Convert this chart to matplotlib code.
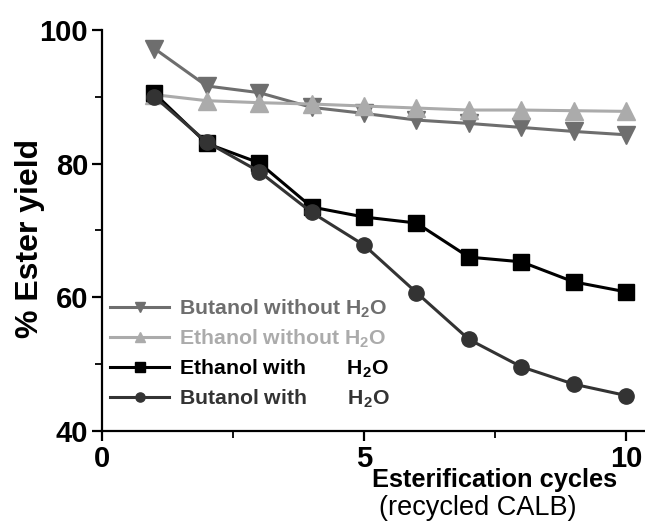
import matplotlib.pyplot as plt

plt.rcParams['font.family'] = 'Liberation Sans'
plt.rcParams['mathtext.fontset'] = 'custom'
plt.rcParams['mathtext.rm'] = 'Liberation Sans:bold'
plt.rcParams['mathtext.bf'] = 'Liberation Sans:bold'

cycles = [1, 2, 3, 4, 5, 6, 7, 8, 9, 10]
butanol_without = [97.2, 91.6, 90.6, 88.4, 87.5, 86.5, 86.0, 85.4, 84.8, 84.3]
ethanol_without = [90.3, 89.4, 89.1, 88.9, 88.6, 88.3, 88.0, 88.0, 87.9, 87.8]
ethanol_with = [90.5, 83.0, 80.1, 73.5, 72.0, 71.1, 66.0, 65.3, 62.3, 60.8]
butanol_with = [90.0, 83.2, 78.8, 72.7, 67.8, 60.7, 53.7, 49.6, 47.0, 45.3]

labels = ['Butanol without H$_2$O', 'Ethanol without H$_2$O',
          'Ethanol with       H$_2$O', 'Butanol with       H$_2$O']
colors = ['#6e6e6e', '#ababab', '#000000', '#333333']

fig = plt.figure(figsize=(6.45, 5.23), dpi=100)
ax = fig.add_axes([0.158, 0.176, 0.842, 0.767])

ax.plot(cycles, butanol_without, '-v', color=colors[0], lw=2.2, ms=13, label=labels[0])
ax.plot(cycles, ethanol_without, '-^', color=colors[1], lw=2.2, ms=13, label=labels[1])
ax.plot(cycles, ethanol_with, '-s', color=colors[2], lw=2.2, ms=11, label=labels[2])
ax.plot(cycles, butanol_with, '-o', color=colors[3], lw=2.2, ms=11, label=labels[3])

ax.set_xlim(0, 10.36)
ax.set_ylim(40, 100)
ax.set_xticks([0, 5, 10])
ax.set_xticks([2.5, 7.5], minor=True)
ax.set_yticks([40, 60, 80, 100])
ax.set_yticks([50, 70, 90], minor=True)
ax.tick_params(which='major', length=7, width=1.6, labelsize=21, pad=3)
ax.tick_params(which='minor', length=5, width=1.3)
for lab in ax.get_xticklabels() + ax.get_yticklabels():
    lab.set_fontweight('bold')

for side in ['top', 'right']:
    ax.spines[side].set_visible(False)
for side in ['left', 'bottom']:
    ax.spines[side].set_linewidth(1.6)

ax.set_ylabel('% Ester yield', fontsize=23, fontweight='bold')
ax.yaxis.set_label_coords(-0.104, 0.48)
fig.text(0.766, 0.069, 'Esterification cycles', fontsize=18.3, fontweight='bold', ha='center')
fig.text(0.74, 0.015, '(recycled CALB)', fontsize=19.5, ha='center')

leg = ax.legend(loc='lower left', bbox_to_anchor=(0.0, 0.03), frameon=False,
                markerscale=0.6, handlelength=2.75, handletextpad=0.5,
                labelspacing=0.35, borderaxespad=0,
                prop={'weight': 'bold', 'size': 15.3})
for text, c in zip(leg.get_texts(), colors):
    text.set_color(c)

fig.savefig('out.png', dpi=100)
